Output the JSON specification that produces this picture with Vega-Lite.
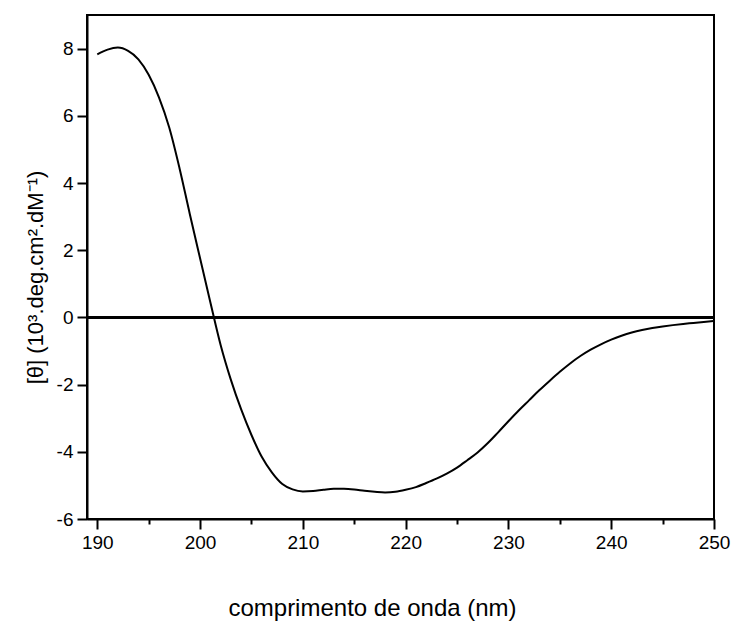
{
  "$schema": "https://vega.github.io/schema/vega-lite/v6.json",
  "width": 627,
  "height": 504,
  "autosize": "none",
  "padding": {"left": 87, "top": 15, "right": 19, "bottom": 102},
  "background": "white",
  "config": {
    "view": {"stroke": "black", "strokeWidth": 2},
    "font": "Liberation Sans",
    "axis": {
      "grid": false,
      "domainColor": "black",
      "domainWidth": 2,
      "tickColor": "black",
      "tickWidth": 2,
      "labelColor": "black",
      "labelFont": "Liberation Sans",
      "labelFontSize": 19,
      "labelOverlap": false,
      "labelFlush": false,
      "titleColor": "black",
      "titleFont": "Liberation Sans",
      "titleFontWeight": "normal"
    }
  },
  "data": {
    "values": [
      {"nm": 190, "theta": 7.83}, {"nm": 191, "theta": 7.97}, {"nm": 192, "theta": 8.03},
      {"nm": 193, "theta": 7.93}, {"nm": 194, "theta": 7.68}, {"nm": 195, "theta": 7.22},
      {"nm": 196, "theta": 6.55}, {"nm": 197, "theta": 5.65}, {"nm": 198, "theta": 4.44},
      {"nm": 199, "theta": 3.08}, {"nm": 200, "theta": 1.76}, {"nm": 201, "theta": 0.45},
      {"nm": 202, "theta": -0.82}, {"nm": 203, "theta": -1.86}, {"nm": 204, "theta": -2.74},
      {"nm": 205, "theta": -3.5}, {"nm": 206, "theta": -4.15}, {"nm": 207, "theta": -4.62},
      {"nm": 208, "theta": -4.96}, {"nm": 209, "theta": -5.12}, {"nm": 210, "theta": -5.18},
      {"nm": 211, "theta": -5.17}, {"nm": 212, "theta": -5.13}, {"nm": 213, "theta": -5.1},
      {"nm": 214, "theta": -5.1}, {"nm": 215, "theta": -5.12}, {"nm": 216, "theta": -5.16},
      {"nm": 217, "theta": -5.19}, {"nm": 218, "theta": -5.21}, {"nm": 219, "theta": -5.19},
      {"nm": 220, "theta": -5.13}, {"nm": 221, "theta": -5.05}, {"nm": 222, "theta": -4.93},
      {"nm": 223, "theta": -4.8}, {"nm": 224, "theta": -4.65}, {"nm": 225, "theta": -4.47},
      {"nm": 226, "theta": -4.25}, {"nm": 227, "theta": -4.02}, {"nm": 228, "theta": -3.74},
      {"nm": 229, "theta": -3.42}, {"nm": 230, "theta": -3.09}, {"nm": 231, "theta": -2.77},
      {"nm": 232, "theta": -2.47}, {"nm": 233, "theta": -2.17}, {"nm": 234, "theta": -1.89},
      {"nm": 235, "theta": -1.62}, {"nm": 236, "theta": -1.37}, {"nm": 237, "theta": -1.15},
      {"nm": 238, "theta": -0.96}, {"nm": 239, "theta": -0.8}, {"nm": 240, "theta": -0.66},
      {"nm": 241, "theta": -0.545}, {"nm": 242, "theta": -0.45}, {"nm": 243, "theta": -0.375},
      {"nm": 244, "theta": -0.315}, {"nm": 245, "theta": -0.27}, {"nm": 246, "theta": -0.23},
      {"nm": 247, "theta": -0.195}, {"nm": 248, "theta": -0.165}, {"nm": 249, "theta": -0.135},
      {"nm": 250, "theta": -0.105}
    ]
  },
  "layer": [
    {
      "mark": {"type": "line", "color": "black", "strokeWidth": 2, "interpolate": "monotone", "clip": true},
      "encoding": {
        "x": {
          "field": "nm",
          "type": "quantitative",
          "scale": {"domain": [189, 250], "nice": false, "zero": false},
          "axis": {
            "title": "comprimento de onda (nm)",
            "values": [190, 195, 200, 205, 210, 215, 220, 225, 230, 235, 240, 245, 250],
            "labelExpr": "datum.value % 10 === 0 ? '' + datum.value : ''",
            "tickSize": {"condition": {"test": "datum.value % 10 === 0", "value": 10}, "value": 5},
            "labelPadding": 4,
            "titleFontSize": 24,
            "titleX": 285,
            "titleY": 96,
            "titleAlign": "center",
            "titleBaseline": "alphabetic"
          }
        },
        "y": {
          "field": "theta",
          "type": "quantitative",
          "scale": {"domain": [-6, 9], "nice": false, "zero": false},
          "axis": {
            "title": "[θ] (10³.deg.cm².dM⁻¹)",
            "values": [-6, -5, -4, -3, -2, -1, 0, 1, 2, 3, 4, 5, 6, 7, 8],
            "labelExpr": "datum.value % 2 === 0 ? '' + datum.value : ''",
            "tickSize": {"condition": {"test": "datum.value % 2 === 0", "value": 10}, "value": 5},
            "labelPadding": 4,
            "titleFontSize": 22,
            "titleX": -45,
            "titleY": 262,
            "titleAngle": -90,
            "titleAlign": "center",
            "titleBaseline": "alphabetic"
          }
        }
      }
    },
    {
      "mark": {"type": "rule", "color": "black", "strokeWidth": 2},
      "encoding": {"y": {"datum": 0}}
    }
  ]
}
